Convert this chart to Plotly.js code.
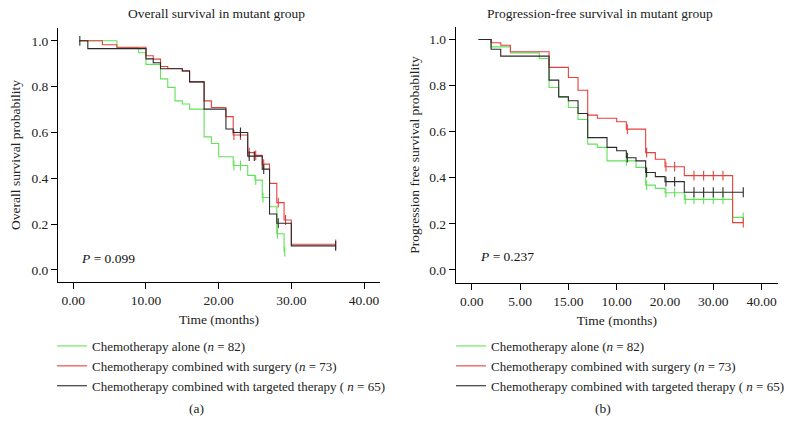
<!DOCTYPE html>
<html>
<head>
<meta charset="utf-8">
<script src="https://cdn.plot.ly/plotly-3.0.1.min.js"></script>
<style>html,body{margin:0;padding:0;background:#fff;}#chart{width:797px;height:434px;}</style>
</head>
<body>
<div id="chart"></div>
<script>
// ---------- DATA ----------
const groupNames = [
  'Chemotherapy alone (<i>n</i> = 82)',
  'Chemotherapy combined with surgery (<i>n</i> = 73)',
  'Chemotherapy combined with targeted therapy ( <i>n</i> = 65)'
];

// Panel (a): overall survival (months)
const osStart = 0.8;
const osAloneT = [6, 9, 10, 12, 13, 14, 15, 16, 18, 19, 20, 22, 24, 25, 26, 27, 28, 29];
const osAloneS = [0.971, 0.948, 0.897, 0.834, 0.797, 0.738, 0.724, 0.702, 0.581, 0.552, 0.494, 0.456, 0.413, 0.392, 0.316, 0.276, 0.158, 0.080];
const osAloneCens = [22.1, 23, 25.1, 26.1, 28.1, 29.1];

const osSurgT = [4, 6, 10, 11, 12, 13, 15, 16, 18, 19, 21, 22, 24, 25, 26, 27, 28, 29, 30];
const osSurgS = [0.983, 0.972, 0.935, 0.920, 0.888, 0.879, 0.869, 0.821, 0.738, 0.709, 0.669, 0.589, 0.512, 0.500, 0.462, 0.378, 0.294, 0.218, 0.112];
const osSurgCens = [22.1, 23, 24.2, 25.1, 26.2, 28.2, 29.2, 36.1];

const osTargT = [2, 10, 11, 12, 15, 16, 18, 21, 22, 24, 26, 27, 28, 30];
const osTargS = [0.966, 0.921, 0.904, 0.878, 0.868, 0.821, 0.702, 0.615, 0.600, 0.497, 0.440, 0.244, 0.204, 0.105];
const osTargCens = [0.9, 23, 24.2, 24.9, 26.2, 28.2, 36.1];

const osTickVals = [0, 10, 20, 30, 40];
const osTickText = ['0.00', '10.00', '20.00', '30.00', '40.00'];

// Panel (b): progression-free survival
const pfsStart = 0.7;
const pfsAloneT = [2, 4, 7, 8, 9, 10, 11, 12, 13, 14, 17, 18, 19, 20, 22, 27];
const pfsAloneS = [0.968, 0.942, 0.918, 0.792, 0.751, 0.705, 0.653, 0.546, 0.532, 0.473, 0.445, 0.368, 0.354, 0.335, 0.306, 0.228];
const pfsAloneCens = [16, 18.1, 20.1, 21, 22.1, 23, 24, 25, 26, 28.1];

const pfsSurgT = [2, 3, 4, 8, 10, 11, 12, 13, 15, 16, 18, 19, 20, 22, 27];
const pfsSurgS = [0.986, 0.975, 0.947, 0.879, 0.835, 0.780, 0.672, 0.658, 0.643, 0.611, 0.509, 0.480, 0.448, 0.409, 0.205];
const pfsSurgCens = [16.1, 18.1, 20.1, 21, 23, 24, 25, 26, 28.1];

const pfsTargT = [2, 3, 8, 9, 10, 11, 12, 14, 15, 16, 17, 18, 19, 20, 22];
const pfsTargS = [0.958, 0.928, 0.824, 0.751, 0.734, 0.679, 0.574, 0.532, 0.517, 0.487, 0.473, 0.423, 0.405, 0.383, 0.337];
const pfsTargCens = [16.1, 18.1, 20.1, 21, 23, 24, 25, 26, 28.1];

const pfsTickVals = [0, 5, 10, 15, 20, 25, 30];
const pfsTickText = ['0.00', '5.00', '15.00', '10.00', '20.00', '30.00', '40.00'];

const yTickVals = [0, 0.2, 0.4, 0.6, 0.8, 1.0];
const yTickText = ['0.0', '0.2', '0.4', '0.6', '0.8', '1.0'];

// ---------- STYLE ----------
const colors = ['#62e25a', '#e5403c', '#2a2a2a'];
const FONT = 'Liberation Serif, Times New Roman, serif';

function stepXY(start, t, s, cens) {
  const end = Math.max(t[t.length - 1], ...cens);
  return { x: [start, ...t, end], y: [1, ...s, s[s.length - 1]] };
}
function survAt(t, s, c) {
  let v = 1;
  for (let i = 0; i < t.length; i++) if (t[i] <= c) v = s[i];
  return v;
}

const traces = [];
function addCurve(start, t, s, cens, idx, xa, ya, leg) {
  const st = stepXY(start, t, s, cens);
  traces.push({
    type: 'scatter', mode: 'lines', x: st.x, y: st.y, xaxis: xa, yaxis: ya,
    line: { shape: 'hv', color: colors[idx], width: 1.1 },
    name: groupNames[idx], legend: leg, showlegend: true, hoverinfo: 'skip'
  });
  traces.push({
    type: 'scatter', mode: 'markers', x: cens, y: cens.map(c => survAt(t, s, c)),
    xaxis: xa, yaxis: ya, showlegend: false, hoverinfo: 'skip',
    marker: { symbol: 'line-ns-open', size: 7, color: colors[idx], line: { color: colors[idx], width: 1.1 } }
  });
}
addCurve(osStart, osAloneT, osAloneS, osAloneCens, 0, 'x', 'y', 'legend');
addCurve(osStart, osSurgT, osSurgS, osSurgCens, 1, 'x', 'y', 'legend');
addCurve(osStart, osTargT, osTargS, osTargCens, 2, 'x', 'y', 'legend');
addCurve(pfsStart, pfsAloneT, pfsAloneS, pfsAloneCens, 0, 'x2', 'y2', 'legend2');
addCurve(pfsStart, pfsSurgT, pfsSurgS, pfsSurgCens, 1, 'x2', 'y2', 'legend2');
addCurve(pfsStart, pfsTargT, pfsTargS, pfsTargCens, 2, 'x2', 'y2', 'legend2');

const axBase = {
  showline: true, linecolor: '#000', linewidth: 1, mirror: false,
  ticks: 'outside', ticklen: 6, tickwidth: 1, tickcolor: '#000',
  showgrid: false, zeroline: false, fixedrange: true,
  tickfont: { family: FONT, size: 13.5, color: '#222' }
};
const titleFont = { family: FONT, size: 13.5, color: '#222' };
const legFont = { family: FONT, size: 13, color: '#222' };

const layout = {
  width: 797, height: 434,
  margin: { l: 0, r: 0, t: 0, b: 0 },
  paper_bgcolor: '#fff', plot_bgcolor: '#fff',
  font: { family: FONT, size: 13, color: '#222' },
  xaxis: Object.assign({}, axBase, {
    domain: [0.0728, 0.4768], range: [-2.1, 42.2], anchor: 'y',
    tickvals: osTickVals, ticktext: osTickText,
    title: { text: 'Time (months)', font: titleFont, standoff: 7 }
  }),
  yaxis: Object.assign({}, axBase, {
    domain: [0.351, 0.935], range: [-0.051, 1.055], anchor: 'x',
    tickvals: yTickVals, ticktext: yTickText,
    title: { text: 'Overall survival probability', font: titleFont, standoff: 7 }
  }),
  xaxis2: Object.assign({}, axBase, {
    domain: [0.5718, 0.9762], range: [-1.66, 31.7], anchor: 'y2',
    tickvals: pfsTickVals, ticktext: pfsTickText,
    title: { text: 'Time (months)', font: titleFont, standoff: 7 }
  }),
  yaxis2: Object.assign({}, axBase, {
    domain: [0.349, 0.937], range: [-0.055, 1.053], anchor: 'x2',
    tickvals: yTickVals, ticktext: yTickText,
    title: { text: 'Progression free survival probability', font: titleFont, standoff: 6 }
  }),
  legend: {
    x: 52 / 797, y: 1 - 331 / 434, xanchor: 'left', yanchor: 'top',
    bgcolor: 'rgba(0,0,0,0)', borderwidth: 0, font: legFont, tracegroupgap: 0
  },
  legend2: {
    x: 451 / 797, y: 1 - 331 / 434, xanchor: 'left', yanchor: 'top',
    bgcolor: 'rgba(0,0,0,0)', borderwidth: 0, font: legFont, tracegroupgap: 0
  },
  annotations: [
    { text: 'Overall survival in mutant group', xref: 'paper', yref: 'paper', x: 216 / 797, y: 1 - 13 / 434,
      xanchor: 'center', yanchor: 'middle', showarrow: false, font: titleFont },
    { text: 'Progression-free survival in mutant group', xref: 'paper', yref: 'paper', x: 600 / 797, y: 1 - 14 / 434,
      xanchor: 'center', yanchor: 'middle', showarrow: false, font: titleFont },
    { text: '<i>P</i> = 0.099', xref: 'paper', yref: 'paper', x: 79 / 797, y: 1 - 258 / 434,
      xanchor: 'left', yanchor: 'middle', showarrow: false, font: { family: FONT, size: 13.5, color: '#111' } },
    { text: '<i>P</i> = 0.237', xref: 'paper', yref: 'paper', x: 478 / 797, y: 1 - 256 / 434,
      xanchor: 'left', yanchor: 'middle', showarrow: false, font: { family: FONT, size: 13.5, color: '#111' } },
    { text: '(a)', xref: 'paper', yref: 'paper', x: 196 / 797, y: 1 - 408 / 434,
      xanchor: 'center', yanchor: 'middle', showarrow: false, font: titleFont },
    { text: '(b)', xref: 'paper', yref: 'paper', x: 603 / 797, y: 1 - 408 / 434,
      xanchor: 'center', yanchor: 'middle', showarrow: false, font: titleFont }
  ]
};

Plotly.newPlot('chart', traces, layout, { staticPlot: true, displayModeBar: false });
</script>
</body>
</html>
